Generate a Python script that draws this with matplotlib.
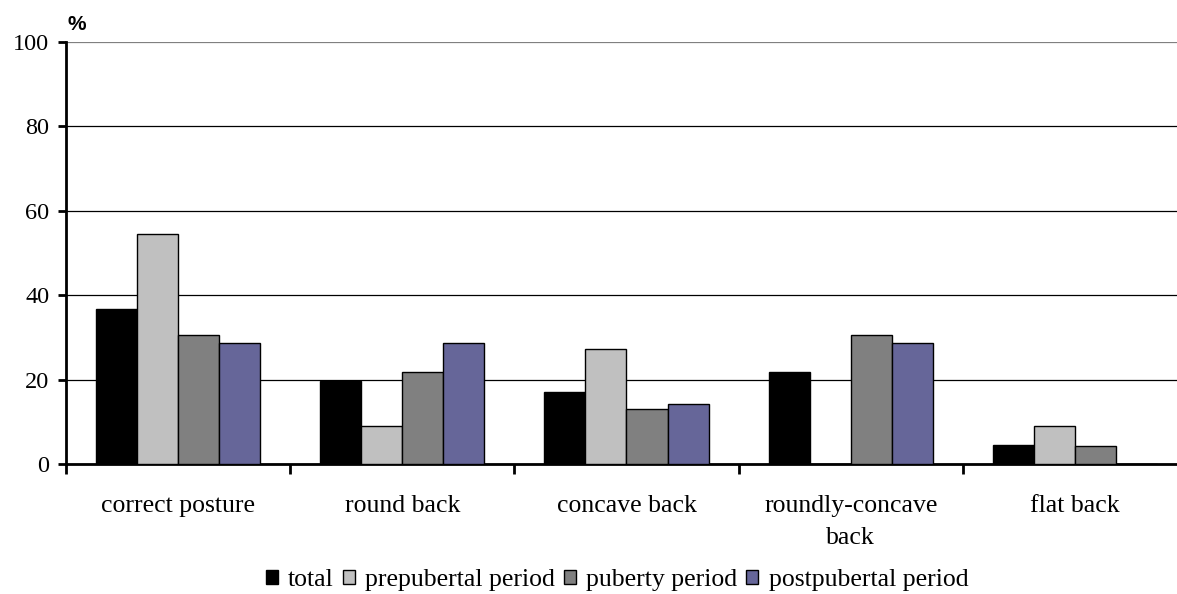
import matplotlib.pyplot as plt
import numpy as np

# Datos
categories = ['correct posture', 'round back', 'concave back', 'roundly-concave\nback', 'flat back']
series_names = ['total', 'prepubertal period', 'puberty period', 'postpubertal period']
total = [36.7, 19.7, 17.1, 21.8, 4.5]
prepubertal = [54.5, 9.0, 27.2, 0, 9.0]
puberty = [30.5, 21.8, 13.0, 30.5, 4.3]
postpubertal = [28.6, 28.6, 14.2, 28.6, 0]
colors = ['#000000', '#c0c0c0', '#808080', '#666699']

plt.rcParams['font.family'] = ['Liberation Serif', 'DejaVu Serif']

fig = plt.figure(figsize=(11.77, 5.94), dpi=100)
ax = fig.add_axes([66 / 1177, 1 - 464 / 594, 1121 / 1177, 422 / 594])

x = np.arange(len(categories))
width = 0.183
values = [total, prepubertal, puberty, postpubertal]
for i, (vals, name, c) in enumerate(zip(values, series_names, colors)):
    ax.bar(x + (i - 1.5) * width, vals, width, color=c, edgecolor='black',
           linewidth=1, label=name, zorder=3)

ax.set_xlim(-0.5, len(categories) - 0.5)
ax.set_ylim(0, 100)
ax.set_yticks([0, 20, 40, 60, 80, 100])
ax.yaxis.grid(True, color='black', linewidth=0.9, zorder=0)
ax.set_axisbelow(True)
ax.get_ygridlines()[-1].set_color('#808080')

# Marcas del eje x en los límites de categoría
ax.set_xticks(np.arange(len(categories) + 1) - 0.5)
ax.set_xticklabels([])
ax.set_xticks(x, minor=True)
ax.set_xticklabels(categories, minor=True, fontsize=18.5, linespacing=1.6, va='top')
ax.tick_params(axis='x', which='minor', length=0, pad=22)
ax.tick_params(axis='x', which='major', direction='out', length=7, width=2)
ax.tick_params(axis='y', direction='out', length=6, width=2, labelsize=17.5, pad=6)

for side in ['top', 'right']:
    ax.spines[side].set_visible(False)
ax.spines['left'].set_linewidth(2)
ax.spines['bottom'].set_linewidth(2)

fig.text(68 / 1177, 1 - 25 / 594, '%', fontsize=15, fontweight='bold',
         family='Liberation Sans', va='center', ha='left')

fig.legend(loc='center', bbox_to_anchor=(617 / 1177, 1 - 580 / 594), ncol=4,
           frameon=False, fontsize=18.5, handlelength=0.47, handleheight=0.47,
           handletextpad=0.4, columnspacing=0.35)

plt.savefig('out.png', dpi=100)
plt.close('all')
